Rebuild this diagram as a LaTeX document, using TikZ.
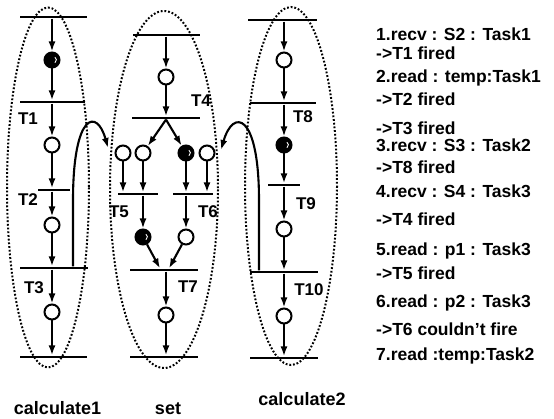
\documentclass[tikz,border=0pt]{standalone}
\usepackage{fontspec}
\setmainfont{Liberation Sans}
\usetikzlibrary{arrows.meta}
\begin{document}
\begin{tikzpicture}[x=1pt,y=-1pt,
  bar/.style={rectangle,fill=black,inner sep=0pt,minimum height=2.8pt,minimum width=#1},
  arr/.style={line width=2.1pt,-{Latex[length=10pt,width=7pt]}},
  place/.style={circle,draw,line width=2pt,minimum size=15pt,inner sep=0pt,fill=white},
  tok/.style={place,fill=black,path picture={\draw[white,line width=0.9pt]
      ([xshift=1pt]path picture bounding box.center) ++(-55:3.4pt) arc[start angle=-55,end angle=55,radius=3.4pt];}},
  zone/.style={draw,line width=2pt,dash pattern=on 1.8pt off 1.9pt},
  tl/.style={font=\fontsize{17}{17}\selectfont\bfseries,inner sep=0pt,anchor=base},
  rt/.style={font=\fontsize{17.5}{17.5}\selectfont\bfseries,inner sep=0pt,anchor=base west},
  bl/.style={font=\fontsize{18}{18}\selectfont\bfseries,inner sep=0pt,anchor=base},
]
\useasboundingbox (0,0) rectangle (554,419);
% ---------- calculate1 ----------
\node[bar=67pt] (b0) at (53,17) {};
\node[tok] (p1) at (52,60) {};
\node[bar=65pt] (b1) at (52.5,102) {};
\node[place] (p2) at (52,145) {};
\node[bar=32pt] (b2) at (54,190) {};
\node[place] (p3) at (52,225) {};
\node[bar=68pt] (b3) at (54,268) {};
\node[place] (p4) at (52,312) {};
\node[bar=67pt] (b4) at (53.5,357) {};
\draw[arr] (p1 |- b0.south) -- (p1.north);
\draw[arr] (p1.south) -- (p1 |- b1.north);
\draw[arr] (p2 |- b1.south) -- (p2.north);
\draw[arr] (p2.south) -- (p2 |- b2.north);
\draw[arr] (p3 |- b2.south) -- (p3.north);
\draw[arr] (p3.south) -- (p3 |- b3.north);
\draw[arr] (p4 |- b3.south) -- (p4.north);
\draw[arr] (p4.south) -- (p4 |- b4.north);
\node[tl] (lT1) at (28,125) {T1};
\node[tl] (lT2) at (28,206) {T2};
\node[tl] (lT3) at (34,294) {T3};
% ---------- set ----------
\node[bar=67pt] (s0) at (166.5,35) {};
\node[place] (r1) at (166,77) {};
\node[bar=68pt] (s1) at (166,118) {};
\node[place] (r2) at (123,153) {};
\node[place] (r3) at (143,153) {};
\node[tok] (r4) at (186,153) {};
\node[place] (r5) at (207,153) {};
\node[bar=40pt] (s2) at (138,194) {};
\node[bar=40pt] (s3) at (192.5,194) {};
\node[tok] (r6) at (143,237) {};
\node[place] (r7) at (186,237) {};
\node[bar=68pt] (s4) at (164,270) {};
\node[place] (r8) at (166,315) {};
\node[bar=68pt] (s5) at (164,357) {};
\draw[arr] (r1 |- s0.south) -- (r1.north);
\draw[arr] (r1.south) -- (r1 |- s1.north);
\draw[arr] (s1.south) -- (r3);
\draw[arr] (s1.south) -- (r4);
\draw[arr] (r2.south) -- (r2 |- s2.north);
\draw[arr] (r3.south) -- (r3 |- s2.north);
\draw[arr] (r4.south) -- (r4 |- s3.north);
\draw[arr] (r5.south) -- (r5 |- s3.north);
\draw[arr] (r6 |- s2.south) -- (r6.north);
\draw[arr] (r7 |- s3.south) -- (r7.north);
\draw[arr] (r6) -- ([xshift=-4pt]s4.north);
\draw[arr] (r7) -- ([xshift=5pt]s4.north);
\draw[arr] (r8 |- s4.south) -- (r8.north);
\draw[arr] (r8.south) -- (r8 |- s5.north);
\node[tl] (lT4) at (201,107) {T4};
\node[tl] (lT5) at (119,218) {T5};
\node[tl] (lT6) at (208,218) {T6};
\node[tl] (lT7) at (188,293) {T7};
% ---------- calculate2 ----------
\node[bar=69pt] (c0) at (282.5,20) {};
\node[place] (q1) at (284,60) {};
\node[bar=66pt] (c1) at (283,103) {};
\node[tok] (q2) at (284,145) {};
\node[bar=32pt] (c2) at (284,185) {};
\node[place] (q3) at (284,229) {};
\node[bar=68pt] (c3) at (284,272) {};
\node[place] (q4) at (284,316) {};
\node[bar=68pt] (c4) at (284,358) {};
\draw[arr] (q1 |- c0.south) -- (q1.north);
\draw[arr] (q1.south) -- (q1 |- c1.north);
\draw[arr] (q2 |- c1.south) -- (q2.north);
\draw[arr] (q2.south) -- (q2 |- c2.north);
\draw[arr] (q3 |- c2.south) -- (q3.north);
\draw[arr] (q3.south) -- (q3 |- c3.north);
\draw[arr] (q4 |- c3.south) -- (q4.north);
\draw[arr] (q4.south) -- (q4 |- c4.north);
\node[tl] (lT8) at (303,123) {T8};
\node[tl] (lT9) at (306,210) {T9};
\node[tl] (lT10) at (309,296) {T10};
% ---------- inter-module arcs ----------
\draw[arr] ([xshift=19pt]b3.north) -- ++(0,-66) .. controls +(0,-88) and (97,108) .. ([xshift=-6.5pt,yshift=5pt]r2.west);
\draw[arr] ([xshift=-25pt]c3.north) -- ++(0,-70) .. controls +(0,-88) and (233,108) .. ([xshift=5.5pt,yshift=3pt]r5.east);
% ---------- module outlines ----------
\draw[zone] (48,187.5) ellipse [x radius=41, y radius=180];
\draw[zone] (164,189.5) ellipse [x radius=54, y radius=178.5];
\draw[zone] (291,186) ellipse [x radius=46, y radius=179];
% ---------- module names ----------
\node[bl] (n1) at (57.5,414) {calculate1};
\node[bl] (n2) at (168,414) {set};
\node[bl] (n3) at (302,405) {calculate2};
% ---------- trace ----------
\node[rt] (x1) at (376,41) {1.recv : S2 : Task1};
\node[rt] (x2) at (376,60) {->T1 fired};
\node[rt] (x3) at (376,83) {2.read : temp:Task1};
\node[rt] (x4) at (376,106) {->T2 fired};
\node[rt] (x5) at (376,135) {->T3 fired};
\node[rt] (x6) at (376,152) {3.recv : S3 : Task2};
\node[rt] (x7) at (376,174) {->T8 fired};
\node[rt] (x8) at (376,198) {4.recv : S4 : Task3};
\node[rt] (x9) at (376,226) {->T4 fired};
\node[rt] (x10) at (376,256) {5.read : p1 : Task3};
\node[rt] (x11) at (376,280) {->T5 fired};
\node[rt] (x12) at (376,308) {6.read : p2 : Task3};
\node[rt] (x13) at (376,336) {->T6 couldn’t fire};
\node[rt] (x14) at (376,360) {7.read :temp:Task2};
\end{tikzpicture}
\end{document}
